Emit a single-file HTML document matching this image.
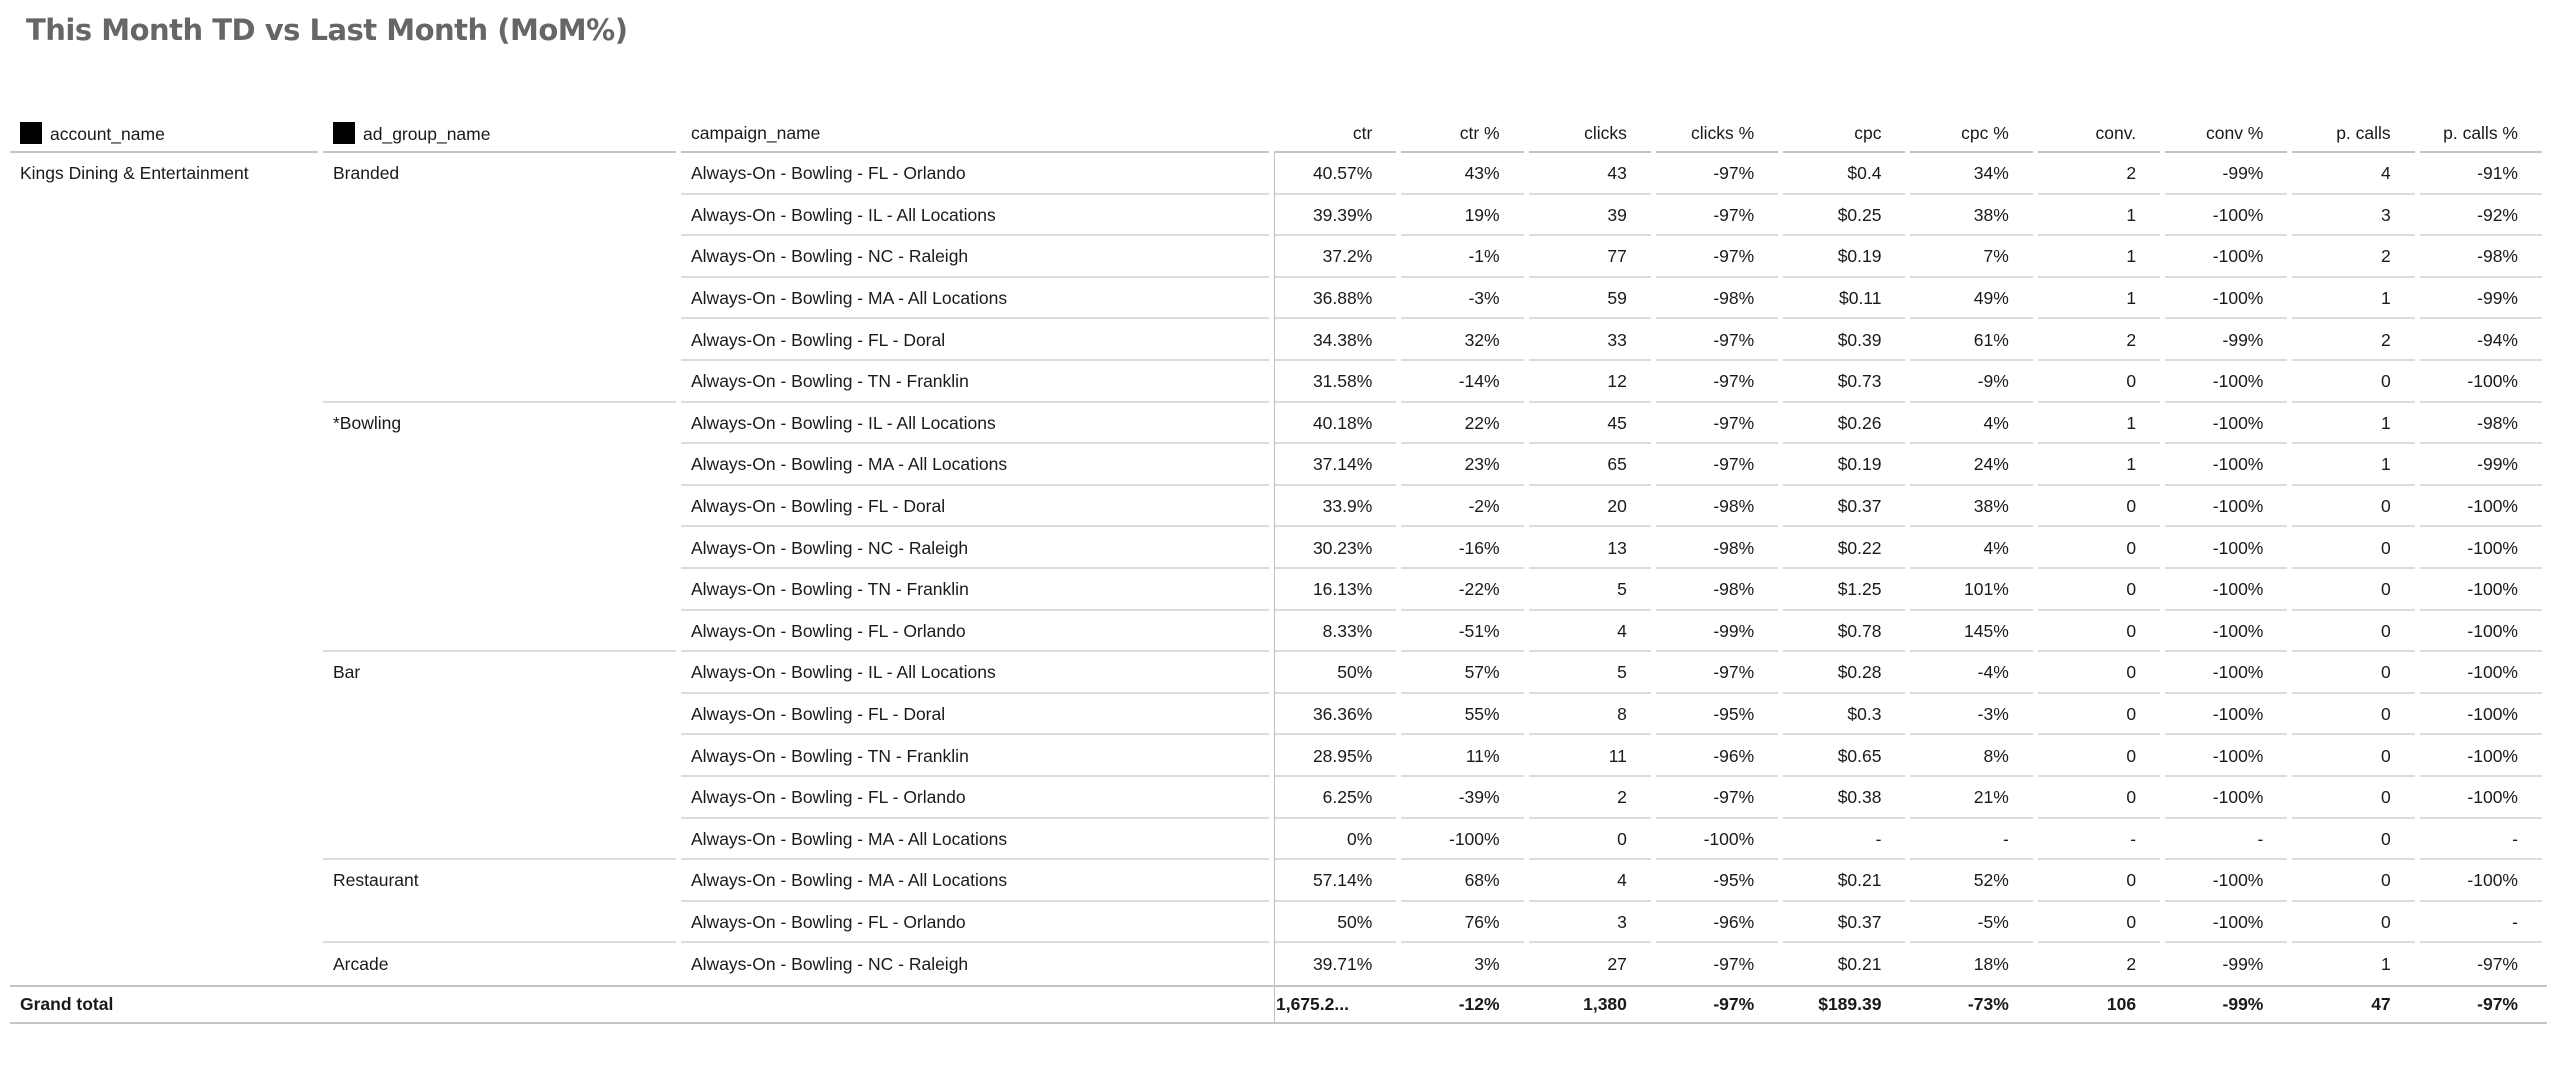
<!DOCTYPE html>
<html><head><meta charset="utf-8"><style>
body{margin:0;width:2560px;height:1079px;background:#fff;font-family:"Liberation Sans","DejaVu Sans",sans-serif;color:#1a1a1a;overflow:hidden;position:relative}
h1{position:absolute;left:26px;top:13px;margin:0;font-size:29px;font-weight:bold;color:#666;font-family:"DejaVu Sans","Liberation Sans",sans-serif;letter-spacing:-0.5px}
table{position:absolute;left:10px;top:113px;border-collapse:separate;border-spacing:0;table-layout:fixed;width:2537px;font-size:17.5px}
td,th{padding:0;height:41.6px;white-space:nowrap;overflow:hidden;font-weight:normal;vertical-align:middle}
th{height:40px}
.l{text-align:left;padding-left:10px}
.n{text-align:right;padding-right:29px}
.b{background:linear-gradient(#dcdcdc,#dcdcdc) left bottom/calc(100% - 5px) 2px no-repeat}
.h{background:linear-gradient(#c4c4c4,#c4c4c4) left bottom/calc(100% - 5px) 2px no-repeat}
.t{background:linear-gradient(#c4c4c4,#c4c4c4) left bottom/100% 2px no-repeat,linear-gradient(#c4c4c4,#c4c4c4) left top/100% 2px no-repeat;font-weight:bold;height:39px}
.d{border-left:1.5px solid #c0c0c0}
.sq{display:inline-block;width:22px;height:22px;background:#000;vertical-align:-4px;margin-right:8px}
</style></head><body>
<h1>This Month TD vs Last Month (MoM%)</h1>
<table>
<colgroup><col style="width:313px"><col style="width:358px"><col style="width:593px"><col span="10" style="width:127.3px"></colgroup>
<tr><th class="l h"><span class="sq"></span>account_name</th><th class="l h"><span class="sq"></span>ad_group_name</th><th class="l h">campaign_name</th><th class="n h">ctr</th><th class="n h">ctr %</th><th class="n h">clicks</th><th class="n h">clicks %</th><th class="n h">cpc</th><th class="n h">cpc %</th><th class="n h">conv.</th><th class="n h">conv %</th><th class="n h">p. calls</th><th class="n h">p. calls %</th></tr>
<tr><td class="l">Kings Dining &amp; Entertainment</td><td class="l">Branded</td><td class="l b">Always-On - Bowling - FL - Orlando</td><td class="n b d">40.57%</td><td class="n b">43%</td><td class="n b">43</td><td class="n b">-97%</td><td class="n b">$0.4</td><td class="n b">34%</td><td class="n b">2</td><td class="n b">-99%</td><td class="n b">4</td><td class="n b">-91%</td></tr>
<tr><td></td><td></td><td class="l b">Always-On - Bowling - IL - All Locations</td><td class="n b d">39.39%</td><td class="n b">19%</td><td class="n b">39</td><td class="n b">-97%</td><td class="n b">$0.25</td><td class="n b">38%</td><td class="n b">1</td><td class="n b">-100%</td><td class="n b">3</td><td class="n b">-92%</td></tr>
<tr><td></td><td></td><td class="l b">Always-On - Bowling - NC - Raleigh</td><td class="n b d">37.2%</td><td class="n b">-1%</td><td class="n b">77</td><td class="n b">-97%</td><td class="n b">$0.19</td><td class="n b">7%</td><td class="n b">1</td><td class="n b">-100%</td><td class="n b">2</td><td class="n b">-98%</td></tr>
<tr><td></td><td></td><td class="l b">Always-On - Bowling - MA - All Locations</td><td class="n b d">36.88%</td><td class="n b">-3%</td><td class="n b">59</td><td class="n b">-98%</td><td class="n b">$0.11</td><td class="n b">49%</td><td class="n b">1</td><td class="n b">-100%</td><td class="n b">1</td><td class="n b">-99%</td></tr>
<tr><td></td><td></td><td class="l b">Always-On - Bowling - FL - Doral</td><td class="n b d">34.38%</td><td class="n b">32%</td><td class="n b">33</td><td class="n b">-97%</td><td class="n b">$0.39</td><td class="n b">61%</td><td class="n b">2</td><td class="n b">-99%</td><td class="n b">2</td><td class="n b">-94%</td></tr>
<tr><td></td><td class="b"></td><td class="l b">Always-On - Bowling - TN - Franklin</td><td class="n b d">31.58%</td><td class="n b">-14%</td><td class="n b">12</td><td class="n b">-97%</td><td class="n b">$0.73</td><td class="n b">-9%</td><td class="n b">0</td><td class="n b">-100%</td><td class="n b">0</td><td class="n b">-100%</td></tr>
<tr><td></td><td class="l">*Bowling</td><td class="l b">Always-On - Bowling - IL - All Locations</td><td class="n b d">40.18%</td><td class="n b">22%</td><td class="n b">45</td><td class="n b">-97%</td><td class="n b">$0.26</td><td class="n b">4%</td><td class="n b">1</td><td class="n b">-100%</td><td class="n b">1</td><td class="n b">-98%</td></tr>
<tr><td></td><td></td><td class="l b">Always-On - Bowling - MA - All Locations</td><td class="n b d">37.14%</td><td class="n b">23%</td><td class="n b">65</td><td class="n b">-97%</td><td class="n b">$0.19</td><td class="n b">24%</td><td class="n b">1</td><td class="n b">-100%</td><td class="n b">1</td><td class="n b">-99%</td></tr>
<tr><td></td><td></td><td class="l b">Always-On - Bowling - FL - Doral</td><td class="n b d">33.9%</td><td class="n b">-2%</td><td class="n b">20</td><td class="n b">-98%</td><td class="n b">$0.37</td><td class="n b">38%</td><td class="n b">0</td><td class="n b">-100%</td><td class="n b">0</td><td class="n b">-100%</td></tr>
<tr><td></td><td></td><td class="l b">Always-On - Bowling - NC - Raleigh</td><td class="n b d">30.23%</td><td class="n b">-16%</td><td class="n b">13</td><td class="n b">-98%</td><td class="n b">$0.22</td><td class="n b">4%</td><td class="n b">0</td><td class="n b">-100%</td><td class="n b">0</td><td class="n b">-100%</td></tr>
<tr><td></td><td></td><td class="l b">Always-On - Bowling - TN - Franklin</td><td class="n b d">16.13%</td><td class="n b">-22%</td><td class="n b">5</td><td class="n b">-98%</td><td class="n b">$1.25</td><td class="n b">101%</td><td class="n b">0</td><td class="n b">-100%</td><td class="n b">0</td><td class="n b">-100%</td></tr>
<tr><td></td><td class="b"></td><td class="l b">Always-On - Bowling - FL - Orlando</td><td class="n b d">8.33%</td><td class="n b">-51%</td><td class="n b">4</td><td class="n b">-99%</td><td class="n b">$0.78</td><td class="n b">145%</td><td class="n b">0</td><td class="n b">-100%</td><td class="n b">0</td><td class="n b">-100%</td></tr>
<tr><td></td><td class="l">Bar</td><td class="l b">Always-On - Bowling - IL - All Locations</td><td class="n b d">50%</td><td class="n b">57%</td><td class="n b">5</td><td class="n b">-97%</td><td class="n b">$0.28</td><td class="n b">-4%</td><td class="n b">0</td><td class="n b">-100%</td><td class="n b">0</td><td class="n b">-100%</td></tr>
<tr><td></td><td></td><td class="l b">Always-On - Bowling - FL - Doral</td><td class="n b d">36.36%</td><td class="n b">55%</td><td class="n b">8</td><td class="n b">-95%</td><td class="n b">$0.3</td><td class="n b">-3%</td><td class="n b">0</td><td class="n b">-100%</td><td class="n b">0</td><td class="n b">-100%</td></tr>
<tr><td></td><td></td><td class="l b">Always-On - Bowling - TN - Franklin</td><td class="n b d">28.95%</td><td class="n b">11%</td><td class="n b">11</td><td class="n b">-96%</td><td class="n b">$0.65</td><td class="n b">8%</td><td class="n b">0</td><td class="n b">-100%</td><td class="n b">0</td><td class="n b">-100%</td></tr>
<tr><td></td><td></td><td class="l b">Always-On - Bowling - FL - Orlando</td><td class="n b d">6.25%</td><td class="n b">-39%</td><td class="n b">2</td><td class="n b">-97%</td><td class="n b">$0.38</td><td class="n b">21%</td><td class="n b">0</td><td class="n b">-100%</td><td class="n b">0</td><td class="n b">-100%</td></tr>
<tr><td></td><td class="b"></td><td class="l b">Always-On - Bowling - MA - All Locations</td><td class="n b d">0%</td><td class="n b">-100%</td><td class="n b">0</td><td class="n b">-100%</td><td class="n b">-</td><td class="n b">-</td><td class="n b">-</td><td class="n b">-</td><td class="n b">0</td><td class="n b">-</td></tr>
<tr><td></td><td class="l">Restaurant</td><td class="l b">Always-On - Bowling - MA - All Locations</td><td class="n b d">57.14%</td><td class="n b">68%</td><td class="n b">4</td><td class="n b">-95%</td><td class="n b">$0.21</td><td class="n b">52%</td><td class="n b">0</td><td class="n b">-100%</td><td class="n b">0</td><td class="n b">-100%</td></tr>
<tr><td></td><td class="b"></td><td class="l b">Always-On - Bowling - FL - Orlando</td><td class="n b d">50%</td><td class="n b">76%</td><td class="n b">3</td><td class="n b">-96%</td><td class="n b">$0.37</td><td class="n b">-5%</td><td class="n b">0</td><td class="n b">-100%</td><td class="n b">0</td><td class="n b">-</td></tr>
<tr><td></td><td class="l">Arcade</td><td class="l">Always-On - Bowling - NC - Raleigh</td><td class="n d">39.71%</td><td class="n">3%</td><td class="n">27</td><td class="n">-97%</td><td class="n">$0.21</td><td class="n">18%</td><td class="n">2</td><td class="n">-99%</td><td class="n">1</td><td class="n">-97%</td></tr>
<tr><td class="l t">Grand total</td><td class="t"></td><td class="t"></td><td class="t d" style="text-align:left;padding-left:1px">1,675.2...</td><td class="n t">-12%</td><td class="n t">1,380</td><td class="n t">-97%</td><td class="n t">$189.39</td><td class="n t">-73%</td><td class="n t">106</td><td class="n t">-99%</td><td class="n t">47</td><td class="n t">-97%</td></tr>
</table>
</body></html>
